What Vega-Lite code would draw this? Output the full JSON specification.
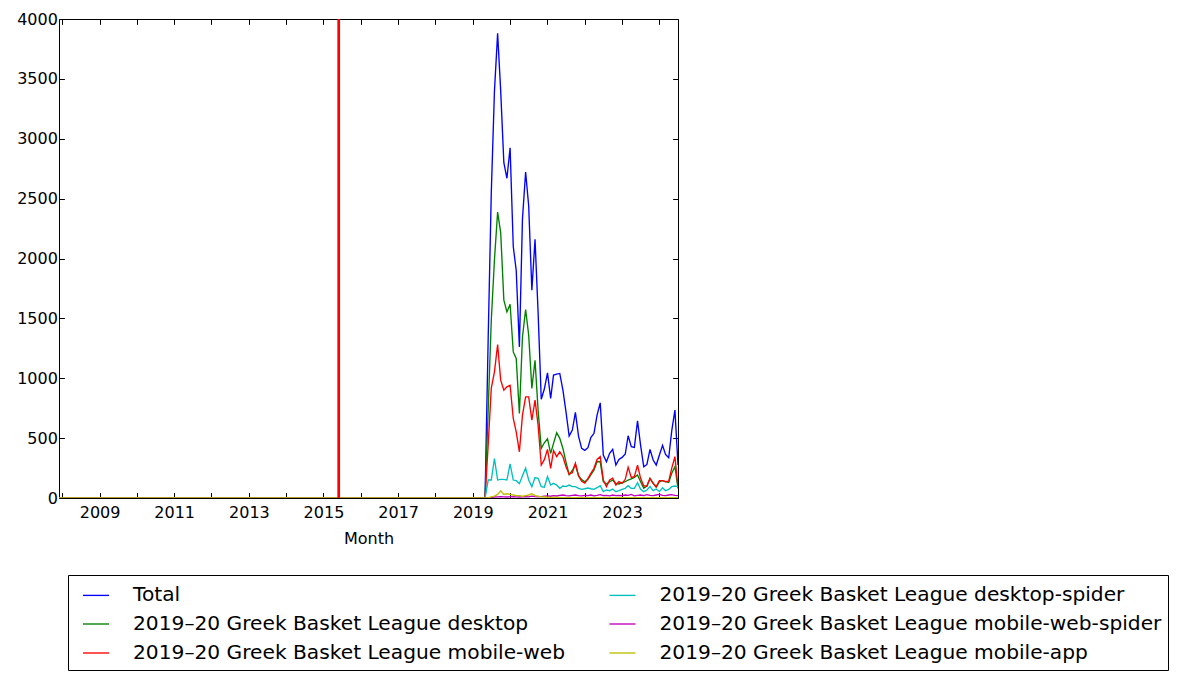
{
  "$schema": "https://vega.github.io/schema/vega-lite/v6.json",
  "width": 619,
  "height": 479,
  "autosize": {"type": "none"},
  "padding": {"left": 59, "top": 19, "right": 499, "bottom": 181},
  "background": "white",
  "config": {
    "view": {"stroke": "black", "strokeWidth": 1},
    "font": "DejaVu Sans",
    "axis": {"labelColor": "black", "tickColor": "black", "titleColor": "black", "grid": false, "domain": false, "labelFont": "DejaVu Sans", "titleFont": "DejaVu Sans"}
  },
  "resolve": {"axis": {"x": "independent", "y": "independent"}},
  "layer": [
    {
      "data": {"values": [
        {"m":"2007-12","T":0,"D":0,"W":0,"S":0,"P":0,"A":0},
        {"m":"2008-01","T":0,"D":0,"W":0,"S":0,"P":0,"A":0},{"m":"2008-02","T":0,"D":0,"W":0,"S":0,"P":0,"A":0},{"m":"2008-03","T":0,"D":0,"W":0,"S":0,"P":0,"A":0},{"m":"2008-04","T":0,"D":0,"W":0,"S":0,"P":0,"A":0},{"m":"2008-05","T":0,"D":0,"W":0,"S":0,"P":0,"A":0},{"m":"2008-06","T":0,"D":0,"W":0,"S":0,"P":0,"A":0},{"m":"2008-07","T":0,"D":0,"W":0,"S":0,"P":0,"A":0},{"m":"2008-08","T":0,"D":0,"W":0,"S":0,"P":0,"A":0},{"m":"2008-09","T":0,"D":0,"W":0,"S":0,"P":0,"A":0},{"m":"2008-10","T":0,"D":0,"W":0,"S":0,"P":0,"A":0},{"m":"2008-11","T":0,"D":0,"W":0,"S":0,"P":0,"A":0},{"m":"2008-12","T":0,"D":0,"W":0,"S":0,"P":0,"A":0},
        {"m":"2009-01","T":0,"D":0,"W":0,"S":0,"P":0,"A":0},{"m":"2009-02","T":0,"D":0,"W":0,"S":0,"P":0,"A":0},{"m":"2009-03","T":0,"D":0,"W":0,"S":0,"P":0,"A":0},{"m":"2009-04","T":0,"D":0,"W":0,"S":0,"P":0,"A":0},{"m":"2009-05","T":0,"D":0,"W":0,"S":0,"P":0,"A":0},{"m":"2009-06","T":0,"D":0,"W":0,"S":0,"P":0,"A":0},{"m":"2009-07","T":0,"D":0,"W":0,"S":0,"P":0,"A":0},{"m":"2009-08","T":0,"D":0,"W":0,"S":0,"P":0,"A":0},{"m":"2009-09","T":0,"D":0,"W":0,"S":0,"P":0,"A":0},{"m":"2009-10","T":0,"D":0,"W":0,"S":0,"P":0,"A":0},{"m":"2009-11","T":0,"D":0,"W":0,"S":0,"P":0,"A":0},{"m":"2009-12","T":0,"D":0,"W":0,"S":0,"P":0,"A":0},
        {"m":"2010-01","T":0,"D":0,"W":0,"S":0,"P":0,"A":0},{"m":"2010-02","T":0,"D":0,"W":0,"S":0,"P":0,"A":0},{"m":"2010-03","T":0,"D":0,"W":0,"S":0,"P":0,"A":0},{"m":"2010-04","T":0,"D":0,"W":0,"S":0,"P":0,"A":0},{"m":"2010-05","T":0,"D":0,"W":0,"S":0,"P":0,"A":0},{"m":"2010-06","T":0,"D":0,"W":0,"S":0,"P":0,"A":0},{"m":"2010-07","T":0,"D":0,"W":0,"S":0,"P":0,"A":0},{"m":"2010-08","T":0,"D":0,"W":0,"S":0,"P":0,"A":0},{"m":"2010-09","T":0,"D":0,"W":0,"S":0,"P":0,"A":0},{"m":"2010-10","T":0,"D":0,"W":0,"S":0,"P":0,"A":0},{"m":"2010-11","T":0,"D":0,"W":0,"S":0,"P":0,"A":0},{"m":"2010-12","T":0,"D":0,"W":0,"S":0,"P":0,"A":0},
        {"m":"2011-01","T":0,"D":0,"W":0,"S":0,"P":0,"A":0},{"m":"2011-02","T":0,"D":0,"W":0,"S":0,"P":0,"A":0},{"m":"2011-03","T":0,"D":0,"W":0,"S":0,"P":0,"A":0},{"m":"2011-04","T":0,"D":0,"W":0,"S":0,"P":0,"A":0},{"m":"2011-05","T":0,"D":0,"W":0,"S":0,"P":0,"A":0},{"m":"2011-06","T":0,"D":0,"W":0,"S":0,"P":0,"A":0},{"m":"2011-07","T":0,"D":0,"W":0,"S":0,"P":0,"A":0},{"m":"2011-08","T":0,"D":0,"W":0,"S":0,"P":0,"A":0},{"m":"2011-09","T":0,"D":0,"W":0,"S":0,"P":0,"A":0},{"m":"2011-10","T":0,"D":0,"W":0,"S":0,"P":0,"A":0},{"m":"2011-11","T":0,"D":0,"W":0,"S":0,"P":0,"A":0},{"m":"2011-12","T":0,"D":0,"W":0,"S":0,"P":0,"A":0},
        {"m":"2012-01","T":0,"D":0,"W":0,"S":0,"P":0,"A":0},{"m":"2012-02","T":0,"D":0,"W":0,"S":0,"P":0,"A":0},{"m":"2012-03","T":0,"D":0,"W":0,"S":0,"P":0,"A":0},{"m":"2012-04","T":0,"D":0,"W":0,"S":0,"P":0,"A":0},{"m":"2012-05","T":0,"D":0,"W":0,"S":0,"P":0,"A":0},{"m":"2012-06","T":0,"D":0,"W":0,"S":0,"P":0,"A":0},{"m":"2012-07","T":0,"D":0,"W":0,"S":0,"P":0,"A":0},{"m":"2012-08","T":0,"D":0,"W":0,"S":0,"P":0,"A":0},{"m":"2012-09","T":0,"D":0,"W":0,"S":0,"P":0,"A":0},{"m":"2012-10","T":0,"D":0,"W":0,"S":0,"P":0,"A":0},{"m":"2012-11","T":0,"D":0,"W":0,"S":0,"P":0,"A":0},{"m":"2012-12","T":0,"D":0,"W":0,"S":0,"P":0,"A":0},
        {"m":"2013-01","T":0,"D":0,"W":0,"S":0,"P":0,"A":0},{"m":"2013-02","T":0,"D":0,"W":0,"S":0,"P":0,"A":0},{"m":"2013-03","T":0,"D":0,"W":0,"S":0,"P":0,"A":0},{"m":"2013-04","T":0,"D":0,"W":0,"S":0,"P":0,"A":0},{"m":"2013-05","T":0,"D":0,"W":0,"S":0,"P":0,"A":0},{"m":"2013-06","T":0,"D":0,"W":0,"S":0,"P":0,"A":0},{"m":"2013-07","T":0,"D":0,"W":0,"S":0,"P":0,"A":0},{"m":"2013-08","T":0,"D":0,"W":0,"S":0,"P":0,"A":0},{"m":"2013-09","T":0,"D":0,"W":0,"S":0,"P":0,"A":0},{"m":"2013-10","T":0,"D":0,"W":0,"S":0,"P":0,"A":0},{"m":"2013-11","T":0,"D":0,"W":0,"S":0,"P":0,"A":0},{"m":"2013-12","T":0,"D":0,"W":0,"S":0,"P":0,"A":0},
        {"m":"2014-01","T":0,"D":0,"W":0,"S":0,"P":0,"A":0},{"m":"2014-02","T":0,"D":0,"W":0,"S":0,"P":0,"A":0},{"m":"2014-03","T":0,"D":0,"W":0,"S":0,"P":0,"A":0},{"m":"2014-04","T":0,"D":0,"W":0,"S":0,"P":0,"A":0},{"m":"2014-05","T":0,"D":0,"W":0,"S":0,"P":0,"A":0},{"m":"2014-06","T":0,"D":0,"W":0,"S":0,"P":0,"A":0},{"m":"2014-07","T":0,"D":0,"W":0,"S":0,"P":0,"A":0},{"m":"2014-08","T":0,"D":0,"W":0,"S":0,"P":0,"A":0},{"m":"2014-09","T":0,"D":0,"W":0,"S":0,"P":0,"A":0},{"m":"2014-10","T":0,"D":0,"W":0,"S":0,"P":0,"A":0},{"m":"2014-11","T":0,"D":0,"W":0,"S":0,"P":0,"A":0},{"m":"2014-12","T":0,"D":0,"W":0,"S":0,"P":0,"A":0},
        {"m":"2015-01","T":0,"D":0,"W":0,"S":0,"P":0,"A":0},{"m":"2015-02","T":0,"D":0,"W":0,"S":0,"P":0,"A":0},{"m":"2015-03","T":0,"D":0,"W":0,"S":0,"P":0,"A":0},{"m":"2015-04","T":0,"D":0,"W":0,"S":0,"P":0,"A":0},{"m":"2015-05","T":0,"D":0,"W":0,"S":0,"P":0,"A":0},{"m":"2015-06","T":0,"D":0,"W":0,"S":0,"P":0,"A":0},{"m":"2015-07","T":0,"D":0,"W":0,"S":0,"P":0,"A":0},{"m":"2015-08","T":0,"D":0,"W":0,"S":0,"P":0,"A":0},{"m":"2015-09","T":0,"D":0,"W":0,"S":0,"P":0,"A":0},{"m":"2015-10","T":0,"D":0,"W":0,"S":0,"P":0,"A":0},{"m":"2015-11","T":0,"D":0,"W":0,"S":0,"P":0,"A":0},{"m":"2015-12","T":0,"D":0,"W":0,"S":0,"P":0,"A":0},
        {"m":"2016-01","T":0,"D":0,"W":0,"S":0,"P":0,"A":0},{"m":"2016-02","T":0,"D":0,"W":0,"S":0,"P":0,"A":0},{"m":"2016-03","T":0,"D":0,"W":0,"S":0,"P":0,"A":0},{"m":"2016-04","T":0,"D":0,"W":0,"S":0,"P":0,"A":0},{"m":"2016-05","T":0,"D":0,"W":0,"S":0,"P":0,"A":0},{"m":"2016-06","T":0,"D":0,"W":0,"S":0,"P":0,"A":0},{"m":"2016-07","T":0,"D":0,"W":0,"S":0,"P":0,"A":0},{"m":"2016-08","T":0,"D":0,"W":0,"S":0,"P":0,"A":0},{"m":"2016-09","T":0,"D":0,"W":0,"S":0,"P":0,"A":0},{"m":"2016-10","T":0,"D":0,"W":0,"S":0,"P":0,"A":0},{"m":"2016-11","T":0,"D":0,"W":0,"S":0,"P":0,"A":0},{"m":"2016-12","T":0,"D":0,"W":0,"S":0,"P":0,"A":0},
        {"m":"2017-01","T":0,"D":0,"W":0,"S":0,"P":0,"A":0},{"m":"2017-02","T":0,"D":0,"W":0,"S":0,"P":0,"A":0},{"m":"2017-03","T":0,"D":0,"W":0,"S":0,"P":0,"A":0},{"m":"2017-04","T":0,"D":0,"W":0,"S":0,"P":0,"A":0},{"m":"2017-05","T":0,"D":0,"W":0,"S":0,"P":0,"A":0},{"m":"2017-06","T":0,"D":0,"W":0,"S":0,"P":0,"A":0},{"m":"2017-07","T":0,"D":0,"W":0,"S":0,"P":0,"A":0},{"m":"2017-08","T":0,"D":0,"W":0,"S":0,"P":0,"A":0},{"m":"2017-09","T":0,"D":0,"W":0,"S":0,"P":0,"A":0},{"m":"2017-10","T":0,"D":0,"W":0,"S":0,"P":0,"A":0},{"m":"2017-11","T":0,"D":0,"W":0,"S":0,"P":0,"A":0},{"m":"2017-12","T":0,"D":0,"W":0,"S":0,"P":0,"A":0},
        {"m":"2018-01","T":0,"D":0,"W":0,"S":0,"P":0,"A":0},{"m":"2018-02","T":0,"D":0,"W":0,"S":0,"P":0,"A":0},{"m":"2018-03","T":0,"D":0,"W":0,"S":0,"P":0,"A":0},{"m":"2018-04","T":0,"D":0,"W":0,"S":0,"P":0,"A":0},{"m":"2018-05","T":0,"D":0,"W":0,"S":0,"P":0,"A":0},{"m":"2018-06","T":0,"D":0,"W":0,"S":0,"P":0,"A":0},{"m":"2018-07","T":0,"D":0,"W":0,"S":0,"P":0,"A":0},{"m":"2018-08","T":0,"D":0,"W":0,"S":0,"P":0,"A":0},{"m":"2018-09","T":0,"D":0,"W":0,"S":0,"P":0,"A":0},{"m":"2018-10","T":0,"D":0,"W":0,"S":0,"P":0,"A":0},{"m":"2018-11","T":0,"D":0,"W":0,"S":0,"P":0,"A":0},{"m":"2018-12","T":0,"D":0,"W":0,"S":0,"P":0,"A":0},
        {"m":"2019-01","T":0,"D":0,"W":0,"S":0,"P":0,"A":0},{"m":"2019-02","T":0,"D":0,"W":0,"S":0,"P":0,"A":0},{"m":"2019-03","T":0,"D":0,"W":0,"S":0,"P":0,"A":0},{"m":"2019-04","T":0,"D":0,"W":0,"S":0,"P":0,"A":0},{"m":"2019-05","T":0,"D":0,"W":0,"S":0,"P":0,"A":0},
        {"m":"2019-06","T":1350,"D":745,"W":450,"S":150,"P":3,"A":3},
        {"m":"2019-07","T":2550,"D":1485,"W":917,"S":150,"P":5,"A":10},
        {"m":"2019-08","T":3400,"D":1990,"W":1054,"S":330,"P":8,"A":15},
        {"m":"2019-09","T":3880,"D":2388,"W":1282,"S":150,"P":10,"A":30},
        {"m":"2019-10","T":3400,"D":2216,"W":984,"S":155,"P":12,"A":60},
        {"m":"2019-11","T":2800,"D":1652,"W":900,"S":155,"P":10,"A":30},
        {"m":"2019-12","T":2670,"D":1554,"W":928,"S":150,"P":8,"A":35},
        {"m":"2020-01","T":2925,"D":1618,"W":942,"S":285,"P":10,"A":30},
        {"m":"2020-02","T":2100,"D":1220,"W":665,"S":150,"P":12,"A":25},
        {"m":"2020-03","T":1900,"D":1165,"W":553,"S":145,"P":10,"A":20},
        {"m":"2020-04","T":1262,"D":706,"W":386,"S":120,"P":8,"A":20},
        {"m":"2020-05","T":2330,"D":1345,"W":692,"S":185,"P":10,"A":15},
        {"m":"2020-06","T":2722,"D":1574,"W":845,"S":250,"P":12,"A":20},
        {"m":"2020-07","T":2438,"D":1360,"W":845,"S":150,"P":10,"A":25},
        {"m":"2020-08","T":1735,"D":915,"W":651,"S":95,"P":15,"A":35},
        {"m":"2020-09","T":2160,"D":1150,"W":817,"S":170,"P":12,"A":20},
        {"m":"2020-10","T":1550,"D":734,"W":609,"S":165,"P":10,"A":15},
        {"m":"2020-11","T":825,"D":414,"W":275,"S":95,"P":12,"A":10},
        {"m":"2020-12","T":910,"D":461,"W":320,"S":90,"P":15,"A":8},
        {"m":"2021-01","T":1045,"D":495,"W":406,"S":178,"P":18,"A":6},
        {"m":"2021-02","T":831,"D":373,"W":248,"S":108,"P":15,"A":5},
        {"m":"2021-03","T":1026,"D":456,"W":395,"S":122,"P":20,"A":5},
        {"m":"2021-04","T":1034,"D":545,"W":345,"S":108,"P":17,"A":4},
        {"m":"2021-05","T":1040,"D":498,"W":386,"S":81,"P":22,"A":4},
        {"m":"2021-06","T":900,"D":414,"W":345,"S":100,"P":25,"A":3},
        {"m":"2021-07","T":720,"D":300,"W":261,"S":95,"P":20,"A":3},
        {"m":"2021-08","T":517,"D":195,"W":200,"S":108,"P":18,"A":3},
        {"m":"2021-09","T":567,"D":230,"W":210,"S":95,"P":22,"A":3},
        {"m":"2021-10","T":715,"D":280,"W":290,"S":95,"P":25,"A":3},
        {"m":"2021-11","T":515,"D":185,"W":185,"S":81,"P":20,"A":2},
        {"m":"2021-12","T":414,"D":155,"W":140,"S":72,"P":18,"A":2},
        {"m":"2022-01","T":398,"D":135,"W":125,"S":77,"P":22,"A":2},
        {"m":"2022-02","T":420,"D":156,"W":164,"S":83,"P":20,"A":2},
        {"m":"2022-03","T":505,"D":192,"W":206,"S":77,"P":25,"A":2},
        {"m":"2022-04","T":540,"D":234,"W":248,"S":72,"P":18,"A":2},
        {"m":"2022-05","T":692,"D":303,"W":322,"S":86,"P":22,"A":2},
        {"m":"2022-06","T":795,"D":303,"W":345,"S":103,"P":28,"A":2},
        {"m":"2022-07","T":359,"D":136,"W":150,"S":53,"P":20,"A":2},
        {"m":"2022-08","T":303,"D":117,"W":95,"S":67,"P":22,"A":2},
        {"m":"2022-09","T":373,"D":136,"W":150,"S":61,"P":18,"A":2},
        {"m":"2022-10","T":406,"D":150,"W":165,"S":75,"P":25,"A":2},
        {"m":"2022-11","T":275,"D":122,"W":108,"S":53,"P":20,"A":2},
        {"m":"2022-12","T":322,"D":117,"W":136,"S":61,"P":22,"A":2},
        {"m":"2023-01","T":339,"D":128,"W":122,"S":72,"P":20,"A":2},
        {"m":"2023-02","T":367,"D":136,"W":156,"S":81,"P":25,"A":2},
        {"m":"2023-03","T":520,"D":150,"W":256,"S":103,"P":22,"A":2},
        {"m":"2023-04","T":428,"D":160,"W":172,"S":81,"P":30,"A":2},
        {"m":"2023-05","T":423,"D":172,"W":178,"S":81,"P":18,"A":2},
        {"m":"2023-06","T":645,"D":192,"W":275,"S":128,"P":22,"A":2},
        {"m":"2023-07","T":440,"D":136,"W":164,"S":72,"P":25,"A":2},
        {"m":"2023-08","T":261,"D":81,"W":100,"S":53,"P":20,"A":2},
        {"m":"2023-09","T":280,"D":100,"W":100,"S":67,"P":28,"A":2},
        {"m":"2023-10","T":406,"D":164,"W":164,"S":95,"P":22,"A":2},
        {"m":"2023-11","T":317,"D":122,"W":122,"S":61,"P":20,"A":2},
        {"m":"2023-12","T":275,"D":90,"W":95,"S":75,"P":25,"A":2},
        {"m":"2024-01","T":359,"D":136,"W":145,"S":53,"P":30,"A":2},
        {"m":"2024-02","T":440,"D":145,"W":145,"S":86,"P":22,"A":2},
        {"m":"2024-03","T":364,"D":136,"W":136,"S":61,"P":20,"A":2},
        {"m":"2024-04","T":336,"D":130,"W":140,"S":72,"P":25,"A":2},
        {"m":"2024-05","T":562,"D":206,"W":250,"S":95,"P":28,"A":2},
        {"m":"2024-06","T":734,"D":261,"W":345,"S":100,"P":22,"A":2},
        {"m":"2024-07","T":275,"D":80,"W":90,"S":95,"P":20,"A":2}
      ]},
      "transform": [{"fold": ["T", "D", "W", "S", "P", "A"], "as": ["k", "v"]}],
      "mark": {"type": "line", "strokeWidth": 1.35, "clip": true},
      "encoding": {
        "x": {
          "field": "m", "type": "temporal",
          "scale": {"type": "utc", "domain": [{"year": 2007, "month": 12, "date": 1, "utc": true}, {"year": 2024, "month": 7, "date": 1, "utc": true}], "nice": false},
          "axis": {
            "orient": "bottom", "title": "Month", "titleFontSize": 16, "titleFontWeight": "normal", "titlePadding": 10,
            "labelFontSize": 16, "tickSize": -5.4, "labelPadding": 12, "labelFlush": false, "labelOverlap": false,
            "values": [{"year":2008,"utc":true},{"year":2009,"utc":true},{"year":2010,"utc":true},{"year":2011,"utc":true},{"year":2012,"utc":true},{"year":2013,"utc":true},{"year":2014,"utc":true},{"year":2015,"utc":true},{"year":2016,"utc":true},{"year":2017,"utc":true},{"year":2018,"utc":true},{"year":2019,"utc":true},{"year":2020,"utc":true},{"year":2021,"utc":true},{"year":2022,"utc":true},{"year":2023,"utc":true},{"year":2024,"utc":true}],
            "labelExpr": "utcyear(datum.value) % 2 == 1 ? utcFormat(datum.value, '%Y') : ''"
          }
        },
        "y": {
          "field": "v", "type": "quantitative",
          "scale": {"domain": [0, 4000], "nice": false, "zero": true},
          "axis": {"orient": "left", "title": null, "labelFontSize": 16, "tickSize": -5.4, "labelPadding": 7, "values": [0, 500, 1000, 1500, 2000, 2500, 3000, 3500, 4000], "format": "d", "labelFlush": false}
        },
        "color": {
          "field": "k", "type": "nominal",
          "scale": {"domain": ["T", "D", "W", "S", "P", "A"], "range": ["#0000ff", "#008000", "#ff0000", "#00bfbf", "#bf00bf", "#bfbf00"]},
          "legend": {
            "title": null, "orient": "none", "legendX": 9, "legendY": 556, "columns": 2,
            "symbolType": "stroke", "symbolSize": 676, "symbolStrokeWidth": 1.35, "symbolOffset": 8,
            "labelFontSize": 20.2, "labelFont": "DejaVu Sans", "labelColor": "black", "labelLimit": 0, "labelOffset": 23,
            "padding": 6, "rowPadding": 4, "columnPadding": 34.5, "strokeColor": "black", "fillColor": "white",
            "labelExpr": "datum.label == 'T' ? 'Total' : '2019–20 Greek Basket League ' + (datum.label == 'D' ? 'desktop' : datum.label == 'W' ? 'mobile-web' : datum.label == 'S' ? 'desktop-spider' : datum.label == 'P' ? 'mobile-web-spider' : 'mobile-app')"
          }
        }
      }
    },
    {
      "data": {"values": [{"d": "2015-05-30"}]},
      "mark": {"type": "rule", "color": "#ff0000", "strokeWidth": 2.7},
      "encoding": {
        "x": {
          "field": "d", "type": "temporal",
          "scale": {"type": "utc", "domain": [{"year": 2007, "month": 12, "date": 1, "utc": true}, {"year": 2024, "month": 7, "date": 1, "utc": true}], "nice": false},
          "axis": {"orient": "top", "title": null, "labels": false, "tickSize": -5.4,
            "values": [{"year":2008,"utc":true},{"year":2009,"utc":true},{"year":2010,"utc":true},{"year":2011,"utc":true},{"year":2012,"utc":true},{"year":2013,"utc":true},{"year":2014,"utc":true},{"year":2015,"utc":true},{"year":2016,"utc":true},{"year":2017,"utc":true},{"year":2018,"utc":true},{"year":2019,"utc":true},{"year":2020,"utc":true},{"year":2021,"utc":true},{"year":2022,"utc":true},{"year":2023,"utc":true},{"year":2024,"utc":true}]}
        }
      }
    },
    {
      "data": {"values": [{"y": 0}]},
      "mark": {"type": "point", "opacity": 0},
      "encoding": {
        "y": {
          "field": "y", "type": "quantitative",
          "scale": {"domain": [0, 4000], "nice": false, "zero": true},
          "axis": {"orient": "right", "title": null, "labels": false, "tickSize": -5.4, "values": [0, 500, 1000, 1500, 2000, 2500, 3000, 3500, 4000]}
        }
      }
    }
  ]
}
